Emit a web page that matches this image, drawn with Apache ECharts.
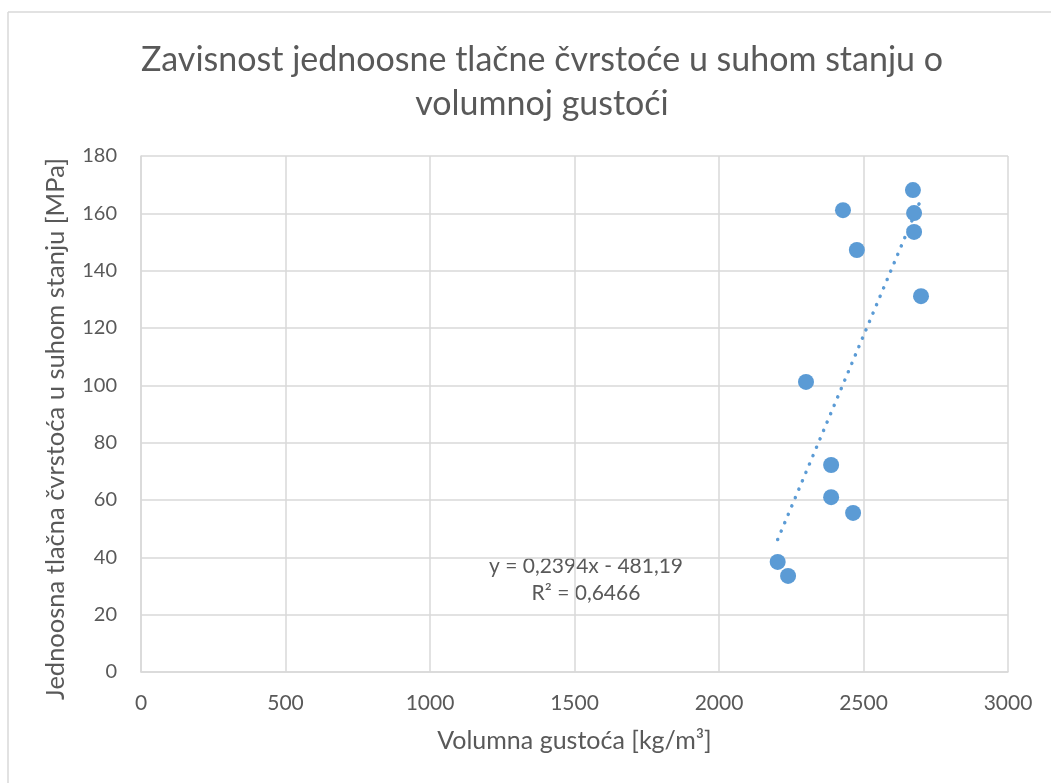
<!DOCTYPE html>
<html>
<head>
<meta charset="utf-8">
<script src="https://cdn.jsdelivr.net/npm/echarts@6/dist/echarts.min.js"></script>
<style>
  html, body { margin: 0; padding: 0; background: #fff; }
  #chart { width: 1051px; height: 783px; }
</style>
</head>
<body>
<div id="chart"></div>
<script>
// gustoca [kg/m3] i cvrstoca [MPa]
var density = [2671, 2429, 2675, 2675, 2477, 2699, 2301, 2388, 2388, 2464, 2203, 2239];
var strength = [168.1, 161.1, 160.1, 153.5, 147.2, 131.1, 101.2, 72.2, 61.0, 55.5, 38.4, 33.5];
var trendSlope = 0.2394;
var trendIntercept = -481.19;
var eqText = 'y = 0,2394x - 481,19';
var r2Text = 'R² = 0,6466';

var myChart = echarts.init(document.getElementById('chart'));

var points = [];
for (var i = 0; i < density.length; i++) {
	points.push([density[i], strength[i]]);
}
var xmin = Math.min.apply(null, density);
var xmax = Math.max.apply(null, density);
var trend = [
	[xmin, trendSlope * xmin + trendIntercept],
	[xmax, trendSlope * xmax + trendIntercept]
];

var font = 'Lato, "Open Sans", sans-serif';
var grey = '#595959';

var option = {
	backgroundColor: '#fff',
	animation: false,
	title: {
		text: 'Zavisnost jednoosne tlačne čvrstoće u suhom stanju o\nvolumnoj gustoći',
		left: 537,
		textAlign: 'center',
		top: 33,
		textStyle: {
			color: grey,
			fontSize: 34,
			fontWeight: 'normal',
			fontFamily: font,
			lineHeight: 44
		}
	},
	grid: {
		left: 141,
		right: 43,
		top: 156,
		bottom: 111
	},
	xAxis: {
		type: 'value',
		min: 0,
		max: 3000,
		interval: 500,
		name: 'Volumna gustoća [kg/m³]',
		nameLocation: 'middle',
		nameGap: 56,
		nameTextStyle: { color: grey, fontSize: 25, fontFamily: font },
		axisLine: { show: true, lineStyle: { color: '#d9d9d9', width: 1.5 } },
		axisTick: { show: false },
		axisLabel: {
			color: grey, fontSize: 21, fontFamily: font, margin: 21,
			formatter: function (v) { return String(v); }
		},
		splitLine: { show: true, lineStyle: { color: '#d9d9d9', width: 1.5 } }
	},
	yAxis: {
		type: 'value',
		min: 0,
		max: 180,
		interval: 20,
		name: 'Jednoosna tlačna čvrstoća u suhom stanju [MPa]',
		nameLocation: 'middle',
		nameGap: 72,
		nameTextStyle: { color: grey, fontSize: 25.5, fontFamily: font, padding: [0, 30, 0, 0] },
		axisLine: { show: true, lineStyle: { color: '#d9d9d9', width: 1.5 } },
		axisTick: { show: false },
		axisLabel: { color: grey, fontSize: 20, fontFamily: font, margin: 24 },
		splitLine: { show: true, lineStyle: { color: '#d9d9d9', width: 1.5 } }
	},
	graphic: [
		{ type: 'line', shape: { x1: 8, y1: 12, x2: 1051, y2: 12 }, style: { stroke: '#d9d9d9', lineWidth: 1.5 } },
		{ type: 'line', shape: { x1: 8, y1: 12, x2: 8, y2: 783 }, style: { stroke: '#d9d9d9', lineWidth: 1.5 } },
		{
			type: 'text', x: 586, y: 553,
			style: {
				text: eqText + '\n' + r2Text,
				align: 'center',
				fill: grey,
				font: '21px ' + font,
				lineHeight: 27
			}
		}
	],
	series: [{
		name: 'trend',
		type: 'line',
		data: trend,
		symbol: 'none',
		z: 1,
		lineStyle: { color: '#5b9bd5', width: 3.5, type: [0.1, 9], cap: 'round' }
	}, {
		name: 'data',
		type: 'scatter',
		data: points,
		symbolSize: 16,
		z: 3,
		itemStyle: { color: '#5b9bd5', opacity: 1 }
	}]
};
myChart.setOption(option);
</script>
</body>
</html>
